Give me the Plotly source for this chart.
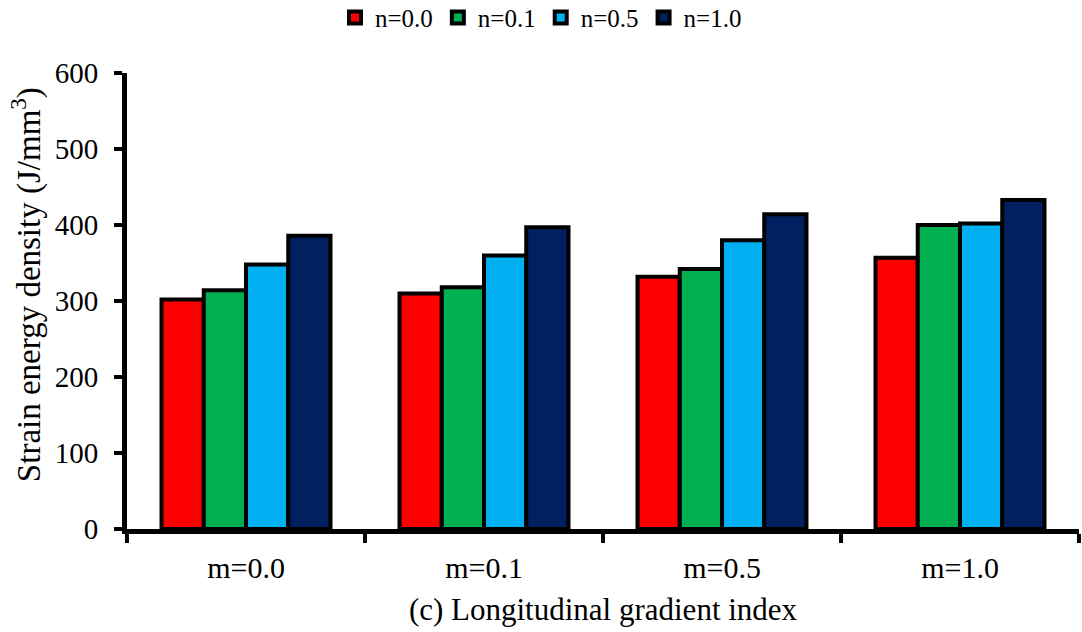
import plotly.graph_objects as go

# Longitudinal gradient index groups
categories = ["m=0.0", "m=0.1", "m=0.5", "m=1.0"]

# Strain energy density (J/mm^3) for each transverse index n
series_names = ["n=0.0", "n=0.1", "n=0.5", "n=1.0"]
n00 = [302, 310, 332, 357]
n01 = [314, 318, 342, 400]
n05 = [348, 360, 380, 402]
n10 = [386, 397, 414, 433]
series_values = [n00, n01, n05, n10]
colors = ["#FF0000", "#00B050", "#00B0F0", "#002060"]

y_ticks = [0, 100, 200, 300, 400, 500, 600]

font_family = "Liberation Serif, Times New Roman, serif"

fig = go.Figure()
for name, vals, col in zip(series_names, series_values, colors):
    fig.add_trace(go.Bar(
        x=categories, y=vals, name=name,
        marker=dict(color=col, line=dict(color="black", width=4)),
    ))

fig.update_layout(
    width=1082, height=632,
    margin=dict(l=127, r=3, t=73, b=103, autoexpand=False),
    paper_bgcolor="white", plot_bgcolor="white",
    barmode="group", bargap=0.29, bargroupgap=0,
    font=dict(family=font_family, color="black"),
    legend=dict(
        orientation="h", x=0.5, xref="container", xanchor="center",
        y=0.972, yref="container", yanchor="middle",
        font=dict(size=25, family=font_family), itemwidth=30,
        traceorder="normal",
    ),
    xaxis=dict(
        showline=True, linecolor="black", linewidth=5,
        ticks="outside", tickson="boundaries", ticklen=9, tickwidth=4, tickcolor="black",
        tickfont=dict(size=30), ticklabelstandoff=8, showgrid=False,
        title=dict(text="(c) Longitudinal gradient index", font=dict(size=31), standoff=17),
    ),
    yaxis=dict(
        range=[0, 600], tickvals=y_ticks,
        showline=True, linecolor="black", linewidth=5,
        ticks="outside", ticklen=8, tickwidth=4, tickcolor="black",
        tickfont=dict(size=29), ticklabelstandoff=10, showgrid=False, zeroline=False,
    ),
    annotations=[dict(
        text="Strain energy density (J/mm<sup>3</sup>)",
        textangle=-90, xref="paper", yref="paper",
        x=-0.106, y=0.535, xanchor="center", yanchor="middle",
        showarrow=False, font=dict(size=33, family=font_family),
    )],
)

fig.write_html("out.html")
